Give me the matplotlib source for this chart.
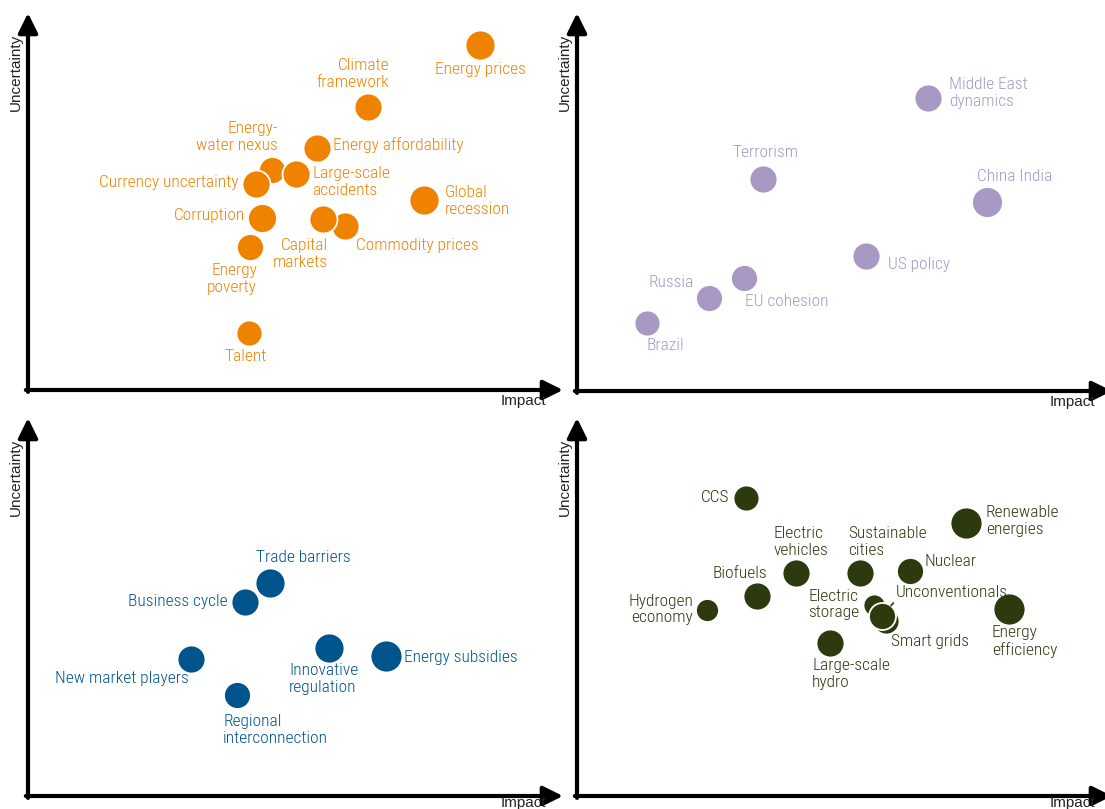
import matplotlib
matplotlib.use("Agg")
import matplotlib.pyplot as plt

plt.rcParams['font.family'] = ['Roboto Condensed', 'Fira Sans Condensed', 'DejaVu Sans']

W, H = 1105, 809

# --- data (impact / uncertainty on a 0-10 scale, w = relative bubble weight) ---
orange_names = ["Energy prices", "Climate\nframework", "Energy affordability", "Energy-\nwater nexus",
                "Large-scale\naccidents", "Currency uncertainty", "Corruption", "Global\nrecession",
                "Commodity prices", "Capital\nmarkets", "Energy\npoverty", "Talent"]
orange_impact = [8.45, 6.36, 5.40, 4.56, 5.01, 4.26, 4.37, 7.40, 5.93, 5.51, 4.15, 4.13]
orange_unc = [9.15, 7.51, 6.42, 5.84, 5.73, 5.46, 4.56, 5.04, 4.35, 4.54, 3.79, 1.51]
orange_w = [15, 14, 14, 13.5, 14, 14, 14.5, 15, 14, 14, 13.5, 13]

purple_names = ["Middle East\ndynamics", "Terrorism", "China India", "US policy",
                "EU cohesion", "Russia", "Brazil"]
purple_impact = [6.56, 3.48, 7.66, 5.40, 3.12, 2.47, 1.31]
purple_unc = [7.75, 5.62, 5.01, 3.58, 3.00, 2.47, 1.80]
purple_w = [14, 14, 15.5, 14, 13.5, 13.5, 13]

blue_names = ["Trade barriers", "Business cycle", "New market players",
              "Regional\ninterconnection", "Innovative\nregulation", "Energy subsidies"]
blue_impact = [4.52, 4.06, 3.05, 3.91, 5.63, 6.69]
blue_unc = [5.63, 5.13, 3.62, 2.67, 3.92, 3.70]
blue_w = [15, 14, 14, 13.5, 15, 16]

green_names = ["CCS", "Renewable\nenergies", "Electric\nvehicles", "Sustainable\ncities", "Nuclear",
               "Biofuels", "Hydrogen\neconomy", "Electric\nstorage", "Smart grids", "Unconventionals",
               "Energy\nefficiency", "Large-scale\nhydro"]
green_impact = [3.16, 7.27, 4.09, 5.29, 6.22, 3.36, 2.43, 5.55, 5.78, 5.70, 8.07, 4.73]
green_unc = [7.88, 7.22, 5.90, 5.90, 5.94, 5.28, 4.91, 5.04, 4.64, 4.77, 4.96, 4.05]
green_w = [13, 16, 14, 14, 13.5, 14, 11.5, 11, 13, 13.5, 16, 14]

# label placement: offset from bubble centre in pixels (dx right, dy down) and alignment
orange_pos = [(0, 24, 'center'), (21, -33, 'right'), (16, -3, 'left'), (6, -33, 'right'),
              (16, 8, 'left'), (-17, -2, 'right'), (-17, -3, 'right'), (21, 1, 'left'),
              (11, 19, 'left'), (5, 35, 'right'), (7, 32, 'right'), (-3, 23, 'center')]
purple_pos = [(21, -5, 'left'), (2, -26, 'center'), (28, -25, 'center'), (22, 9, 'left'),
              (1, 24, 'left'), (-15, -15, 'right'), (18, 23, 'center')]
blue_pos = [(-14, -26, 'left'), (-18, -1, 'right'), (-2, 19, 'right'), (-14, 35, 'left'),
            (-40, 31, 'left'), (18, 1, 'left')]
green_pos = [(-17, -1, 'right'), (20, -2, 'left'), (-22, -31, 'left'), (-12, -31, 'left'),
             (15, -10, 'left'), (10, -23, 'right'), (-14, -1, 'right'), (-15, -1, 'right'),
             (5, 21, 'left'), (14, -23, 'left'), (-17, 33, 'left'), (-18, 31, 'left')]

ORANGE = "#EF8300"
PURPLE = "#A798C4"
BLUE = "#00548C"
GREEN = "#2C3A0E"

fig = plt.figure(figsize=(W / 100, H / 100), dpi=100)


def panel(left, top, height, names, imp, unc, w, pos, color, leader=None, impact_dy=11):
    # axes box spans from the origin of the arrows to their tips
    ax = fig.add_axes([left / W, (H - top) / H, 535 / W, height / H])
    ax.set_xlim(0, 10)
    ax.set_ylim(0, 10)
    ax.axis('off')

    arrow = dict(arrowstyle='-|>,head_length=0.85,head_width=0.42', color='black',
                 lw=3, shrinkA=0, shrinkB=0, mutation_scale=14)
    ax.annotate('', xy=(10, 0), xytext=(-0.04, 0), arrowprops=arrow, annotation_clip=False)
    ax.annotate('', xy=(0, 10), xytext=(0, -0.05), arrowprops=arrow, annotation_clip=False)

    ax.text(-0.09, 9.45, "Uncertainty", rotation=90, ha='right', va='top',
            fontsize=11, family=['Liberation Sans', 'DejaVu Sans'], color='#222222')
    ax.annotate("Impact", xy=(9.68, 0), xytext=(0, -impact_dy * 0.72), textcoords='offset points',
                ha='right', va='center', fontsize=11, family=['Liberation Sans', 'DejaVu Sans'],
                color='#222222', annotation_clip=False)

    for name, x, y, r, (dx, dy, ha) in zip(names, imp, unc, w, pos):
        ax.scatter([x], [y], s=(1.44 * r) ** 2, color=color,
                   edgecolor='white', linewidth=1.3, zorder=3, clip_on=False)
        props = None
        if leader is not None and name == leader:
            props = dict(arrowstyle='-', color=color, lw=1.2, shrinkA=0,
                         shrinkB=r * 0.72, relpos=(0.0, 0.0))
        ax.annotate(name, xy=(x, y), xytext=(dx * 0.72, -dy * 0.72),
                    textcoords='offset points', ha=ha, va='center', fontsize=12.5,
                    fontweight='light', color=color, linespacing=1.12, zorder=4,
                    arrowprops=props)
    return ax


panel(28, 390, 377, orange_names, orange_impact, orange_unc, orange_w, orange_pos, ORANGE)
panel(577, 391, 378, purple_names, purple_impact, purple_unc, purple_w, purple_pos, PURPLE)
panel(28, 796, 378, blue_names, blue_impact, blue_unc, blue_w, blue_pos, BLUE, impact_dy=7)
panel(577, 796, 378, green_names, green_impact, green_unc, green_w, green_pos, GREEN,
      leader="Unconventionals", impact_dy=7)

fig.savefig("out.png", dpi=100)
